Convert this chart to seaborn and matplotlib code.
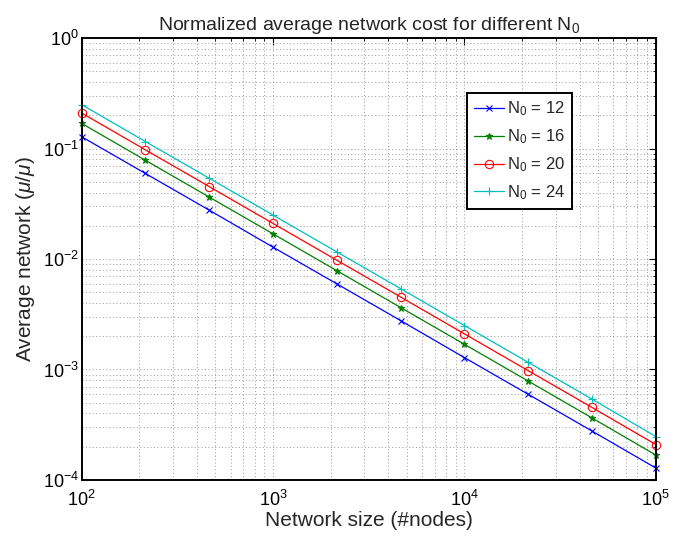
import numpy as np
import pandas as pd
import matplotlib
matplotlib.use("Agg")
import matplotlib.pyplot as plt
import seaborn as sns

# Network sizes (number of nodes)
network_size = [100, 215, 464, 1000, 2154, 4642, 10000, 21544, 46416, 100000]

# Normalized average network cost per initial size N0
cost_n0_12 = [0.128, 0.0596, 0.0277, 0.0128, 0.00596, 0.00277, 0.00128, 0.000596, 0.000277, 0.000128]
cost_n0_16 = [0.169, 0.0785, 0.0364, 0.0169, 0.00785, 0.00364, 0.00169, 0.000785, 0.000364, 0.000168]
cost_n0_20 = [0.210, 0.0975, 0.0453, 0.0210, 0.00975, 0.00453, 0.00210, 0.000975, 0.000453, 0.000209]
cost_n0_24 = [0.250, 0.116, 0.0539, 0.0250, 0.0116, 0.00539, 0.00250, 0.00116, 0.000539, 0.000247]

series_labels = [r"N$_0$ = 12", r"N$_0$ = 16", r"N$_0$ = 20", r"N$_0$ = 24"]

sns.set_theme(style="white")
plt.rcParams["font.family"] = ["Liberation Sans", "DejaVu Sans"]
plt.rcParams["mathtext.fontset"] = "custom"
plt.rcParams["mathtext.rm"] = "Liberation Sans"
plt.rcParams["mathtext.it"] = "Liberation Sans:italic"
plt.rcParams["mathtext.sf"] = "Liberation Sans"

frames = []
for lab, vals in zip(series_labels, [cost_n0_12, cost_n0_16, cost_n0_20, cost_n0_24]):
    frames.append(pd.DataFrame({"size": network_size, "cost": vals, "series": lab}))
df = pd.concat(frames, ignore_index=True)

colors = ["#0000ff", "#008000", "#ff0000", "#00bfbf"]
markers = ["x", "*", "o", "+"]
marker_sizes = [5, 5, 6, 6]

fig = plt.figure(figsize=(6.81, 5.38), dpi=100)
ax = fig.add_axes([0.120, 0.108, 0.843, 0.821])

for lab, col, mk, ms in zip(series_labels, colors, markers, marker_sizes):
    sub = df[df["series"] == lab]
    sns.lineplot(
        data=sub, x="size", y="cost", ax=ax, color=col, label=lab,
        marker=mk, markersize=ms,
        markerfacecolor="none" if mk == "o" else col,
        markeredgecolor=col, markeredgewidth=0.8, linewidth=0.9,
        estimator=None, sort=False, clip_on=False, zorder=3,
    )

ax.set_xscale("log")
ax.set_yscale("log")
ax.set_xlim(1e2, 1e5)
ax.set_ylim(1e-4, 1e0)

ax.grid(True, which="both", linestyle=(0, (1, 2.5)), color="#999999", linewidth=0.7)
for side in ["top", "right", "bottom", "left"]:
    ax.spines[side].set_visible(True)
    ax.spines[side].set_color("black")
    ax.spines[side].set_linewidth(1.4)
    ax.spines[side].set_zorder(4)

ax.tick_params(which="both", direction="in", top=True, right=True, colors="black")
ax.tick_params(which="major", length=5, width=0.8, labelsize=13)
ax.tick_params(which="minor", length=2.5, width=0.6)
ax.tick_params(axis="x", which="major", pad=7)
ax.tick_params(axis="y", which="major", pad=2)

ax.set_title(r"Normalized average network cost for different N$_0$", fontsize=14, pad=6)
ax.set_xlabel("Network size (#nodes)", fontsize=15, labelpad=1)
ax.set_ylabel(r"Average network ($\mu/\mu$)", fontsize=15, labelpad=4)

leg = ax.legend(
    loc="upper left", bbox_to_anchor=(0.671, 0.876), fontsize=12,
    frameon=True, fancybox=False, edgecolor="black", framealpha=1,
    handlelength=1.8, handletextpad=0.2, borderpad=0.4, labelspacing=0.55,
    borderaxespad=0,
)
leg.get_frame().set_linewidth(1.4)
leg.set_zorder(5)

fig.savefig("out.png", dpi=100)
